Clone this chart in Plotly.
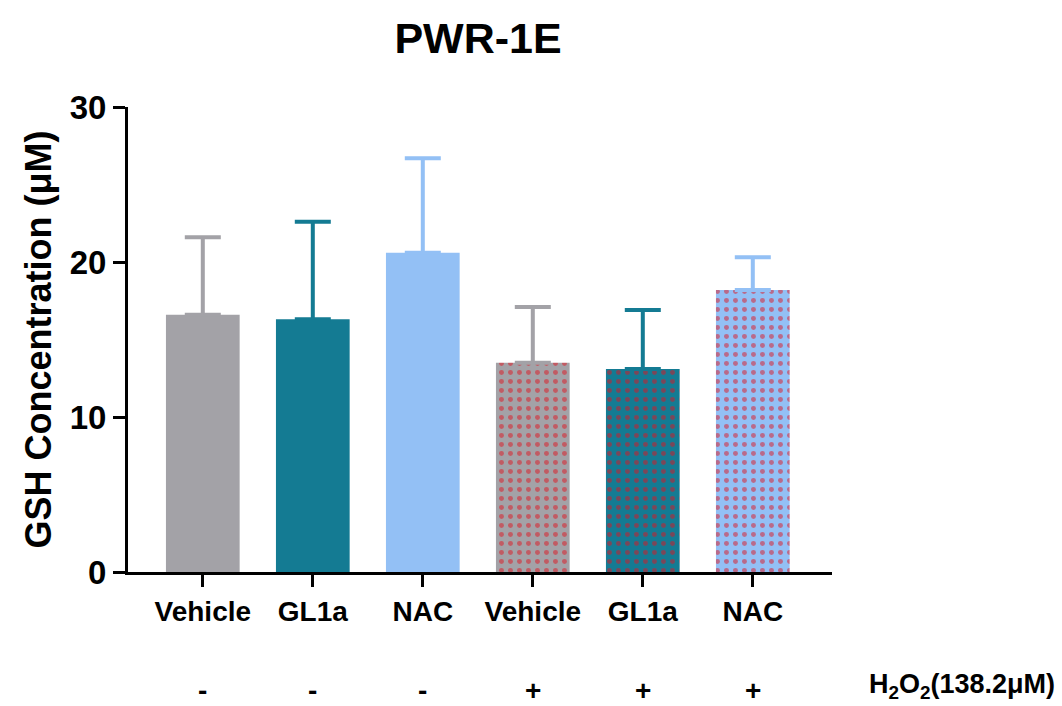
import plotly.graph_objects as go

# Group labels, treatment flags and measured GSH (mean and SD)
groups = ["Vehicle", "GL1a", "NAC", "Vehicle", "GL1a", "NAC"]
h2o2 = ["-", "-", "-", "+", "+", "+"]
means = [16.6, 16.3, 20.6, 13.5, 13.1, 18.2]
sds = [5.0, 6.3, 6.1, 3.6, 3.8, 2.1]
colors = ["#A3A2A7", "#147B93", "#93C0F5", "#A3A2A7", "#147B93", "#93C0F5"]

positions = list(range(len(groups)))

# Plot box in pixels (used for placing the treatment row in paper units)
W, H = 1062, 706
ML, MR, MT, MB = 128, 230, 107, 134
plot_h = H - MT - MB
plot_w = W - ML - MR


def paper_y(px):
    return -(px - (H - MB)) / plot_h


fig = go.Figure()
for i, (m, s, c, t) in enumerate(zip(means, sds, colors, h2o2)):
    if t == "+":
        pattern = dict(shape=".", fgcolor="#E0141F", bgcolor=c, size=9, solidity=0.24)
    else:
        pattern = dict(shape="")
    fig.add_trace(go.Bar(
        x=[positions[i]], y=[m],
        width=0.67,
        marker=dict(color=c, line=dict(width=0), pattern=pattern),
        error_y=dict(type="data", array=[s], arrayminus=[0], symmetric=False,
                     color=c, thickness=4, width=18),
        showlegend=False,
    ))

fig.update_layout(
    width=W, height=H,
    margin=dict(l=ML, r=MR, t=MT, b=MB),
    plot_bgcolor="white", paper_bgcolor="white",
    font=dict(family="Liberation Sans, Arial, sans-serif", color="black"),
    title=dict(text="<b>PWR-1E</b>", xref="container", x=478 / W, xanchor="center",
               y=1 - 38 / H, yanchor="middle",
               font=dict(size=43, color="black")),
)

fig.update_xaxes(
    range=[-0.68, 5.72],
    tickmode="array", tickvals=positions, ticktext=[f"<b>{g}</b>" for g in groups],
    tickfont=dict(size=28),
    showline=True, linecolor="black", linewidth=3,
    ticks="outside", ticklen=12, tickwidth=3, tickcolor="black",
    showgrid=False, zeroline=False,
)
fig.update_yaxes(
    range=[0, 30],
    tickvals=[0, 10, 20, 30], ticktext=["<b>0</b>", "<b>10</b>", "<b>20</b>", "<b>30</b>"],
    tickfont=dict(size=33),
    showline=True, linecolor="black", linewidth=3,
    ticks="outside", ticklen=12, tickwidth=3, tickcolor="black",
    showgrid=False, zeroline=False,
    title=dict(text="<b>GSH Concentration (μM)</b>", font=dict(size=36), standoff=8),
)

# Treatment row beneath the group labels
for p, t in zip(positions, h2o2):
    fig.add_annotation(x=p, xref="x", y=paper_y(690), yref="paper", text=f"<b>{t}</b>",
                       showarrow=False, font=dict(size=28), yanchor="middle")
fig.add_annotation(x=(1057 - ML) / plot_w, xref="paper", y=paper_y(686), yref="paper",
                   text="<b>H<sub>2</sub>O<sub>2</sub>(138.2μM)</b>",
                   showarrow=False, font=dict(size=27), xanchor="right", yanchor="middle")

fig.write_html("out.html")
